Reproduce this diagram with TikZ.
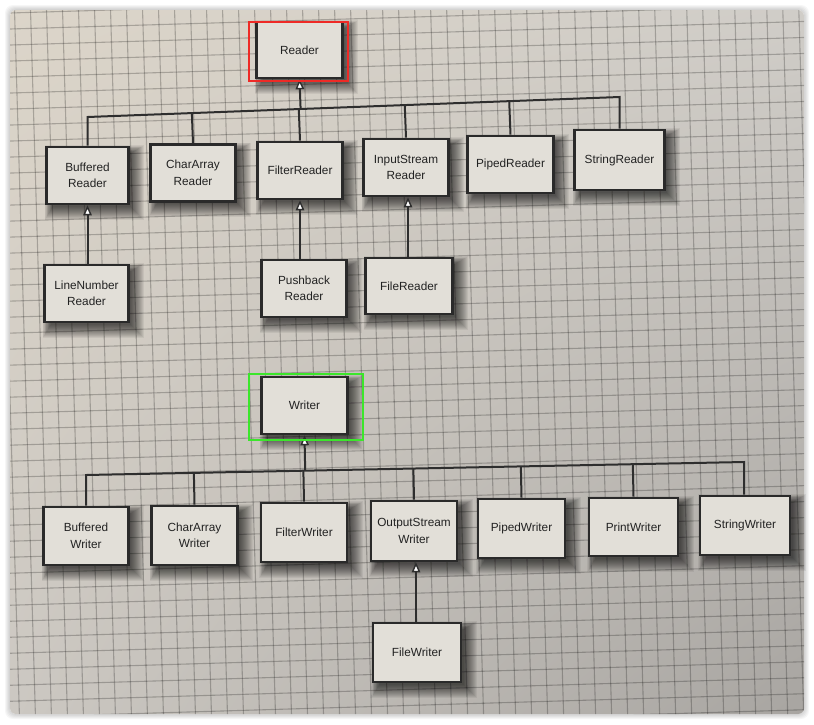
\documentclass[tikz,border=0pt]{standalone}
\usepackage{fontspec}
\setmainfont{Liberation Sans}
\usetikzlibrary{arrows.meta,calc,shadings}
\pgfdeclarelayer{paper}
\pgfdeclarelayer{shadow}
\pgfsetlayers{paper,shadow,main}
\definecolor{paperUL}{HTML}{DCD5C9}
\definecolor{paperUR}{HTML}{D0CDC8}
\definecolor{paperLL}{HTML}{CCC8C2}
\definecolor{paperLR}{HTML}{A8A5A1}
\definecolor{boxfill}{HTML}{E2DFD8}
\definecolor{boxline}{HTML}{2A2A2A}
\definecolor{textc}{HTML}{222222}
\definecolor{linec}{HTML}{2E2E2E}
\definecolor{annred}{HTML}{EE2A26}
\definecolor{anngreen}{HTML}{3BE62B}
\begin{document}
\begin{tikzpicture}[x=1pt,y=-1pt,
  cls/.style={draw=boxline, line width=2.6pt, fill=boxfill,
    minimum width=85pt, minimum height=57pt, inner sep=2pt, align=center,
    font=\fontsize{11.8}{16.5}\selectfont, text=textc},
  conn/.style={line width=2pt, draw=linec, line join=miter},
  inh/.style={conn, -{Triangle[length=10pt,width=8.5pt,fill=white,line width=1.4pt]}},
  gridl/.style={draw=black, opacity=0.23, line width=1.1pt},
  ann/.style={line width=2pt},
  shadowlayer/.style={fill=black, opacity=0.06}
]
\useasboundingbox (0,0) rectangle (814,724);
\begin{pgfonlayer}{paper}
\fill[white] (0,0) rectangle (814,724);
% soft shadow around the photo
\foreach \r in {1,...,5}
  \fill[black, opacity=0.035, rounded corners=8pt] (10-\r,10-\r) rectangle (804+\r,714+\r);
\fill[white, rounded corners=6pt] (10,10) rectangle (804,714);
\shade[rounded corners=6pt, upper left=paperUL, upper right=paperUR,
  lower left=paperLL, lower right=paperLR] (10,10) rectangle (804,714);
% graph paper grid
\begin{scope}
  \clip[rounded corners=6pt] (10,10) rectangle (804,714);
  \begin{scope}[shift={(485,223)}, rotate=1.7]
    \foreach \i in {-32,...,22} \draw[gridl] (\i*16,-260) -- (\i*16,540);
    \foreach \j in {-16,...,33} \draw[gridl] (-540,\j*16) -- (360,\j*16);
  \end{scope}
\end{scope}
\end{pgfonlayer}

% ---------- Reader hierarchy ----------
\node[cls, minimum width=86pt, minimum height=56pt] (reader) at (299.5,50) {Reader};
\node[cls, minimum width=82pt] (br)  at (87.5,175.5) {Buffered\\Reader};
\node[cls] (car) at (193,173)   {CharArray\\Reader};
\node[cls] (fr)  at (300,170.5) {FilterReader};
\node[cls] (isr) at (406,167.5) {InputStream\\Reader};
\node[cls, minimum width=86pt] (pr)  at (510.5,164.5) {PipedReader};
\node[cls, minimum width=90pt, minimum height=60pt] (sr) at (619.5,160) {StringReader};
\node[cls, minimum width=84pt] (lnr) at (86.5,293.5) {LineNumber\\Reader};
\node[cls] (pbr) at (304,288.5) {Pushback\\Reader};
\node[cls, minimum width=87pt, minimum height=56pt] (fir) at (409,286) {FileReader};

\coordinate (rbl) at (87.5,117);
\coordinate (rbr) at (619.5,97);
\draw[conn] (br.north) -- (rbl) -- (rbr) -- (sr.north);
\foreach \c in {car,fr,isr,pr}
  \draw[conn] (\c.north) -- ($(rbl)!(\c.north)!(rbr)$);
\draw[inh] ($(rbl)!(reader.south)!(rbr)$) -- (reader.south);
\draw[inh] (lnr.north) -- (br.south |- lnr.north) -- (br.south);
\draw[inh] (fr.south |- pbr.north) -- (fr.south);
\draw[inh] ($(isr.south |- fir.north)+(2,0)$) -- ($(isr.south)+(2,0)$);

\draw[ann, draw=annred] ($(reader.north west)+(-6,1)$) rectangle ($(reader.south east)+(4,2)$);

% ---------- Writer hierarchy ----------
\node[cls, minimum width=86pt] (writer) at (304.5,405.5) {Writer};
\node[cls, minimum height=58pt] (bw)  at (86,536)    {Buffered\\Writer};
\node[cls, minimum width=86pt, minimum height=59pt] (caw) at (194.5,535.5) {CharArray\\Writer};
\node[cls, minimum width=86pt, minimum height=59pt] (fw)  at (304,532.5)   {FilterWriter};
\node[cls, minimum width=86pt, minimum height=60pt] (osw) at (414,531)     {OutputStream\\Writer};
\node[cls, minimum width=87pt, minimum height=59pt] (pw)  at (521.5,528.5) {PipedWriter};
\node[cls, minimum width=89pt, minimum height=58pt] (prw) at (633.5,527)   {PrintWriter};
\node[cls, minimum width=90pt, minimum height=59pt] (sw)  at (745,525.5)   {StringWriter};
\node[cls, minimum width=88pt, minimum height=59pt] (fiw) at (417,652.5)   {FileWriter};

\coordinate (wbl) at (86,475);
\coordinate (wbr) at (744,462);
\draw[conn] (bw.north) -- (wbl) -- (wbr) -- ($(sw.north)+(-1,0)$);
\foreach \c in {caw,fw,osw,pw,prw}
  \draw[conn] (\c.north) -- ($(wbl)!(\c.north)!(wbr)$);
\draw[inh] ($(wbl)!(writer.south)!(wbr)$) -- (writer.south);
\draw[inh] ($(osw.south |- fiw.north)+(2,0)$) -- ($(osw.south)+(2,0)$);

\draw[ann, draw=anngreen] ($(writer.north west)+(-11,-2)$) rectangle ($(writer.south east)+(14,5)$);

% ---------- soft drop shadows of the class boxes ----------
\begin{pgfonlayer}{shadow}
\foreach \n in {reader,br,car,fr,isr,pr,sr,lnr,pbr,fir,writer,bw,caw,fw,osw,pw,prw,sw,fiw}
  \foreach \r in {1,...,14}
    \fill[shadowlayer] ($(\n.north west)+(8-0.6*\r,8-0.6*\r)$) rectangle ($(\n.south east)+(0.3+\r,0.3+\r)$);
\end{pgfonlayer}
\end{tikzpicture}
\end{document}
